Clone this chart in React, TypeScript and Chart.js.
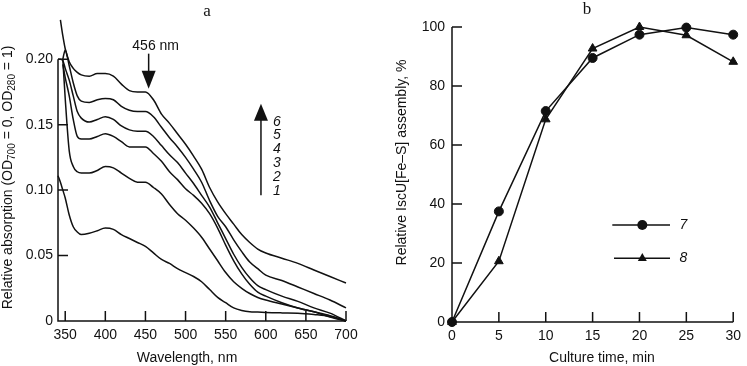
import React, { useEffect, useRef } from "react";
import { Chart, registerables } from "chart.js";

Chart.register(...registerables);

const FONT = "'Liberation Sans', Arial, Helvetica, sans-serif";
const SERIF = "'Liberation Serif', 'Times New Roman', serif";
const INK = "#111";

// ---------- Panel a: absorption spectra ----------
const WAVELENGTHS = [341, 344, 347, 350, 355, 360, 365, 370, 380, 390, 400, 410, 420, 430, 440, 450, 460, 470, 480, 490, 500, 510, 520, 530, 540, 550, 560, 570, 580, 590, 600, 620, 640, 660, 680, 700];
const CURVE_1 = [0.111, 0.106, 0.100, 0.094, 0.081, 0.072, 0.068, 0.066, 0.067, 0.069, 0.071, 0.070, 0.066, 0.063, 0.060, 0.057, 0.052, 0.047, 0.044, 0.040, 0.037, 0.034, 0.030, 0.024, 0.018, 0.014, 0.010, 0.008, 0.007, 0.0068, 0.0065, 0.0062, 0.006, 0.005, 0.0035, 0.0];
const CURVE_2 = [null, null, 0.200, 0.170, 0.130, 0.118, 0.114, 0.113, 0.113, 0.115, 0.118, 0.117, 0.113, 0.109, 0.106, 0.106, 0.102, 0.097, 0.089, 0.082, 0.077, 0.071, 0.064, 0.055, 0.046, 0.037, 0.030, 0.025, 0.021, 0.018, 0.016, 0.013, 0.010, 0.007, 0.003, 0.0];
const CURVE_3 = [null, null, 0.196, 0.186, 0.172, 0.154, 0.141, 0.139, 0.139, 0.141, 0.143, 0.141, 0.137, 0.133, 0.133, 0.133, 0.128, 0.122, 0.114, 0.108, 0.101, 0.096, 0.090, 0.082, 0.071, 0.058, 0.046, 0.036, 0.028, 0.022, 0.019, 0.014, 0.010, 0.007, 0.004, 0.0];
const CURVE_4 = [0.200, 0.200, 0.199, 0.193, 0.184, 0.172, 0.160, 0.155, 0.152, 0.154, 0.156, 0.154, 0.149, 0.146, 0.145, 0.145, 0.141, 0.134, 0.127, 0.121, 0.113, 0.105, 0.096, 0.087, 0.075, 0.063, 0.051, 0.041, 0.033, 0.027, 0.024, 0.019, 0.015, 0.010, 0.006, 0.0];
const CURVE_5 = [null, null, 0.200, 0.207, 0.195, 0.182, 0.172, 0.168, 0.167, 0.169, 0.170, 0.169, 0.164, 0.161, 0.160, 0.160, 0.156, 0.148, 0.140, 0.133, 0.125, 0.116, 0.106, 0.092, 0.080, 0.072, 0.062, 0.053, 0.045, 0.040, 0.035, 0.031, 0.026, 0.021, 0.016, 0.010];
const CURVE_6 = [null, 0.230, 0.218, 0.208, 0.198, 0.193, 0.190, 0.188, 0.187, 0.189, 0.189, 0.187, 0.181, 0.176, 0.175, 0.175, 0.169, 0.158, 0.151, 0.143, 0.135, 0.126, 0.116, 0.102, 0.091, 0.082, 0.074, 0.066, 0.060, 0.055, 0.052, 0.048, 0.044, 0.039, 0.034, 0.029];
const CURVE_LABELS = ["6", "5", "4", "3", "2", "1"];
const A_X_TICKS = [350, 400, 450, 500, 550, 600, 650, 700];
const A_Y_TICKS = [0, 0.05, 0.1, 0.15, 0.2];
const A_Y_TICK_LABELS = ["0", "0.05", "0.10", "0.15", "0.20"];
const PEAK_LABEL = "456 nm";
const PEAK_ARROW_NM = 454;
const PEAK_ARROW_TIP = 0.1775;
const ORDER_ARROW_NM = 594;
const ORDER_ARROW_FROM = 0.096;
const ORDER_ARROW_TO = 0.166;

// ---------- Panel b: assembly kinetics ----------
const TIMES = [0, 5, 10, 15, 20, 25, 30];
const SERIES_7 = [0, 37.5, 71.5, 89.5, 97.4, 99.8, 97.4];
const SERIES_8 = [0, 20.6, 68.7, 92.7, 100, 97.2, 88.2];
const B_X_TICKS = [0, 5, 10, 15, 20, 25, 30];
const B_Y_TICKS = [0, 20, 40, 60, 80, 100];
const B_LEGEND = ["7", "8"];

function toPoints(xs: number[], ys: (number | null)[]) {
  return xs.map((x, i) => ({ x, y: ys[i] })).filter((p) => p.y !== null);
}

function drawTriangle(ctx: CanvasRenderingContext2D, x: number, y: number, r: number) {
  ctx.beginPath();
  for (let k = 0; k < 3; k++) {
    const a = (k * 2 * Math.PI) / 3;
    const px = x + Math.sin(a) * r;
    const py = y - Math.cos(a) * r;
    if (k === 0) ctx.moveTo(px, py);
    else ctx.lineTo(px, py);
  }
  ctx.closePath();
  ctx.fill();
}

function drawArrowHead(ctx: CanvasRenderingContext2D, x: number, baseY: number, tipY: number, halfW: number) {
  ctx.beginPath();
  ctx.moveTo(x - halfW, baseY);
  ctx.lineTo(x + halfW, baseY);
  ctx.lineTo(x, tipY);
  ctx.closePath();
  ctx.fill();
}

const panelADecor = {
  id: "panelADecor",
  afterDatasetsDraw(chart: any) {
    const { ctx, scales } = chart;
    const x = scales.x;
    const y = scales.y;
    const y0 = y.getPixelForValue(0);
    const xL = x.getPixelForValue(x.min);
    const xR = x.getPixelForValue(x.max);
    ctx.save();
    ctx.strokeStyle = INK;
    ctx.fillStyle = INK;
    ctx.lineWidth = 1.5;
    ctx.beginPath();
    ctx.moveTo(xL, y.getPixelForValue(A_Y_TICKS[A_Y_TICKS.length - 1]));
    ctx.lineTo(xL, y0);
    ctx.lineTo(xR, y0);
    for (const v of A_X_TICKS) {
      const px = x.getPixelForValue(v);
      ctx.moveTo(px, y0);
      ctx.lineTo(px, y0 - 10);
    }
    for (const v of A_Y_TICKS) {
      const py = y.getPixelForValue(v);
      ctx.moveTo(xL, py);
      ctx.lineTo(xL + 10, py);
    }
    ctx.stroke();

    // 456 nm arrow
    const ax = x.getPixelForValue(PEAK_ARROW_NM);
    const tip = y.getPixelForValue(PEAK_ARROW_TIP);
    ctx.beginPath();
    ctx.moveTo(ax, tip - 35);
    ctx.lineTo(ax, tip - 15);
    ctx.stroke();
    drawArrowHead(ctx, ax, tip - 18, tip, 7);
    ctx.font = `14px ${FONT}`;
    ctx.textAlign = "center";
    ctx.textBaseline = "middle";
    ctx.fillText(PEAK_LABEL, ax + 7, tip - 43);

    // ordering arrow with curve numbers
    const ox = x.getPixelForValue(ORDER_ARROW_NM);
    const oTail = y.getPixelForValue(ORDER_ARROW_FROM);
    const oTip = y.getPixelForValue(ORDER_ARROW_TO);
    ctx.beginPath();
    ctx.moveTo(ox, oTail);
    ctx.lineTo(ox, oTip + 14);
    ctx.stroke();
    drawArrowHead(ctx, ox, oTip + 17, oTip, 7);
    ctx.font = `italic 14px ${FONT}`;
    ctx.textAlign = "center";
    ctx.textBaseline = "middle";
    CURVE_LABELS.forEach((t, i) => ctx.fillText(t, ox + 16, oTip + 18 + i * 13.8));

    // panel letter
    ctx.font = `17px ${SERIF}`;
    ctx.textBaseline = "alphabetic";
    ctx.fillText("a", 207, 16);

    // x title
    ctx.font = `14px ${FONT}`;
    ctx.fillText("Wavelength, nm", 187, 362);

    // y title with subscripts
    const parts: [string, boolean][] = [
      ["Relative absorption (OD", false],
      ["700", true],
      [" = 0, OD", false],
      ["280", true],
      [" = 1)", false],
    ];
    const mainFont = `14px ${FONT}`;
    const subFont = `10px ${FONT}`;
    let total = 0;
    const widths = parts.map(([t, sub]) => {
      ctx.font = sub ? subFont : mainFont;
      const w = ctx.measureText(t).width;
      total += w;
      return w;
    });
    ctx.translate(11.5, 177.5);
    ctx.rotate(-Math.PI / 2);
    ctx.textAlign = "left";
    let cx = -total / 2;
    parts.forEach(([t, sub], i) => {
      ctx.font = sub ? subFont : mainFont;
      ctx.fillText(t, cx, sub ? 3.5 : 0);
      cx += widths[i];
    });
    ctx.restore();
  },
};

const panelBDecor = {
  id: "panelBDecor",
  afterDatasetsDraw(chart: any) {
    const { ctx, scales } = chart;
    const x = scales.x;
    const y = scales.y;
    const y0 = y.getPixelForValue(0);
    const xL = x.getPixelForValue(0);
    const xR = x.getPixelForValue(x.max);
    ctx.save();
    ctx.strokeStyle = INK;
    ctx.fillStyle = INK;
    ctx.lineWidth = 1.5;
    ctx.beginPath();
    ctx.moveTo(xL, y.getPixelForValue(y.max));
    ctx.lineTo(xL, y0);
    ctx.lineTo(xR, y0);
    for (const v of B_X_TICKS) {
      const px = x.getPixelForValue(v);
      ctx.moveTo(px, y0);
      ctx.lineTo(px, y0 - 10);
    }
    for (const v of B_Y_TICKS) {
      const py = y.getPixelForValue(v);
      ctx.moveTo(xL, py);
      ctx.lineTo(xL + 10, py);
    }
    ctx.stroke();

    // legend
    const rows = [225, 258.3];
    ctx.lineWidth = 1.5;
    rows.forEach((ry, i) => {
      ctx.beginPath();
      ctx.moveTo(i === 0 ? 242.3 : 244, ry);
      ctx.lineTo(300, ry);
      ctx.stroke();
      if (i === 0) {
        ctx.beginPath();
        ctx.arc(272.3, ry, 5, 0, Math.PI * 2);
        ctx.fill();
      } else {
        drawTriangle(ctx, 272.3, ry, 5.2);
      }
      ctx.font = `italic 14px ${FONT}`;
      ctx.textAlign = "center";
      ctx.textBaseline = "middle";
      ctx.fillText(B_LEGEND[i], 313.3, ry);
    });

    ctx.font = `17px ${SERIF}`;
    ctx.textAlign = "center";
    ctx.textBaseline = "alphabetic";
    ctx.fillText("b", 217, 13.5);

    ctx.font = `14px ${FONT}`;
    ctx.fillText("Culture time, min", 232, 362);

    ctx.translate(35.5, 162.5);
    ctx.rotate(-Math.PI / 2);
    ctx.fillText("Relative IscU[Fe\u2013S] assembly, %", 0, 0);
    ctx.restore();
  },
};

function tickFont() {
  return { family: FONT, size: 14 };
}

export default function App() {
  const aRef = useRef<HTMLCanvasElement>(null);
  const bRef = useRef<HTMLCanvasElement>(null);

  useEffect(() => {
    const curves = [CURVE_1, CURVE_2, CURVE_3, CURVE_4, CURVE_5, CURVE_6];
    const chartA = new Chart(aRef.current as HTMLCanvasElement, {
      type: "line",
      data: {
        datasets: curves.map((c, i) => ({
          label: String(i + 1),
          data: toPoints(WAVELENGTHS, c) as any,
          borderColor: INK,
          borderWidth: 1.5,
          pointRadius: 0,
          fill: false,
          cubicInterpolationMode: "monotone" as const,
          clip: false as any,
        })),
      },
      options: {
        animation: false,
        responsive: false,
        events: [],
        layout: { padding: { left: 0, right: 24, top: 8, bottom: 0 } },
        plugins: { legend: { display: false }, tooltip: { enabled: false } },
        scales: {
          x: {
            type: "linear",
            min: 341,
            max: 700,
            grid: { display: false, drawTicks: false },
            border: { display: false },
            afterBuildTicks: (s: any) => {
              s.ticks = A_X_TICKS.map((v) => ({ value: v }));
            },
            afterFit: (s: any) => {
              s.height = 45;
            },
            ticks: {
              color: INK,
              font: tickFont(),
              padding: 6,
              autoSkip: false,
              maxRotation: 0,
              callback: (v: any) => String(v),
            },
          },
          y: {
            type: "linear",
            min: 0,
            max: 0.235,
            grid: { display: false, drawTicks: false },
            border: { display: false },
            afterBuildTicks: (s: any) => {
              s.ticks = A_Y_TICKS.map((v) => ({ value: v }));
            },
            afterFit: (s: any) => {
              s.width = 58;
            },
            ticks: {
              color: INK,
              font: tickFont(),
              padding: 5,
              autoSkip: false,
              callback: (_v: any, i: number) => A_Y_TICK_LABELS[i],
            },
          },
        },
      },
      plugins: [panelADecor],
    });

    const chartB = new Chart(bRef.current as HTMLCanvasElement, {
      type: "line",
      data: {
        datasets: [
          {
            label: B_LEGEND[0],
            data: toPoints(TIMES, SERIES_7) as any,
            borderColor: INK,
            borderWidth: 1.5,
            pointStyle: "circle",
            pointRadius: 4.5,
            pointBackgroundColor: INK,
            pointBorderColor: INK,
            pointBorderWidth: 1,
            clip: false as any,
          },
          {
            label: B_LEGEND[1],
            data: toPoints(TIMES, SERIES_8) as any,
            borderColor: INK,
            borderWidth: 1.5,
            pointStyle: "triangle",
            pointRadius: 5,
            pointBackgroundColor: INK,
            pointBorderColor: INK,
            pointBorderWidth: 1,
            clip: false as any,
          },
        ],
      },
      options: {
        animation: false,
        responsive: false,
        events: [],
        layout: { padding: { left: 0, right: 10, top: 27, bottom: 0 } },
        plugins: { legend: { display: false }, tooltip: { enabled: false } },
        scales: {
          x: {
            type: "linear",
            min: 0,
            max: 30,
            grid: { display: false, drawTicks: false },
            border: { display: false },
            afterBuildTicks: (s: any) => {
              s.ticks = B_X_TICKS.map((v) => ({ value: v }));
            },
            afterFit: (s: any) => {
              s.height = 44;
            },
            ticks: {
              color: INK,
              font: tickFont(),
              padding: 6,
              autoSkip: false,
              maxRotation: 0,
              callback: (v: any) => String(v),
            },
          },
          y: {
            type: "linear",
            min: 0,
            max: 100,
            grid: { display: false, drawTicks: false },
            border: { display: false },
            afterBuildTicks: (s: any) => {
              s.ticks = B_Y_TICKS.map((v) => ({ value: v }));
            },
            afterFit: (s: any) => {
              s.width = 82;
            },
            ticks: {
              color: INK,
              font: tickFont(),
              padding: 7,
              autoSkip: false,
              callback: (v: any) => String(v),
            },
          },
        },
      },
      plugins: [panelBDecor],
    });

    return () => {
      chartA.destroy();
      chartB.destroy();
    };
  }, []);

  return (
    <div style={{ position: "fixed", left: 0, top: 0, width: 747, height: 366, background: "#fff" }}>
      <canvas ref={aRef} width={370} height={366} style={{ position: "absolute", left: 0, top: 0 }} />
      <canvas ref={bRef} width={377} height={366} style={{ position: "absolute", left: 370, top: 0 }} />
    </div>
  );
}
